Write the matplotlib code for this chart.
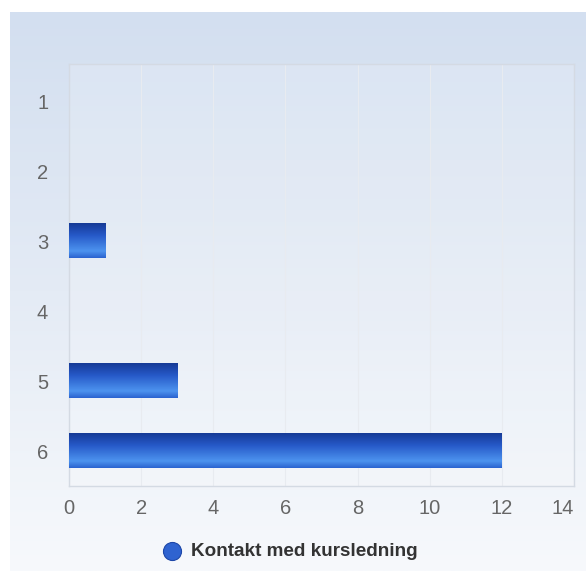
import numpy as np
import matplotlib
matplotlib.use("Agg")
from matplotlib import pyplot as plt
from matplotlib.colors import LinearSegmentedColormap
from matplotlib.lines import Line2D

categories = ["1", "2", "3", "4", "5", "6"]
values = [0, 0, 1, 0, 3, 12]
series_name = "Kontakt med kursledning"
x_ticks = [0, 2, 4, 6, 8, 10, 12, 14]

plt.rcParams['font.family'] = ['Liberation Sans', 'DejaVu Sans']

W, H = 586, 571
fig = plt.figure(figsize=(W / 100, H / 100), dpi=100)
fig.patch.set_facecolor("white")

# bakgrund med gradient
bg = fig.add_axes([10 / W, 0, 1 - 10 / W, 1 - 12 / H])
bg.set_axis_off()
grad = np.linspace(0, 1, 256).reshape(-1, 1)
bg_cmap = LinearSegmentedColormap.from_list("bg", ["#d3dff0", "#e4ebf5", "#f7f9fc"])
bg.imshow(grad, aspect="auto", cmap=bg_cmap, extent=[0, 1, 0, 1], origin="upper")
bg.set_xlim(0, 1)
bg.set_ylim(0, 1)

ax = fig.add_axes([69 / W, 1 - 486 / H, (574 - 69) / W, (486 - 64) / H])
ax.set_facecolor((1, 1, 1, 0.15))

pos = np.arange(1, len(categories) + 1)
bars = ax.barh(pos, values, height=0.49, color="none", zorder=3)

bar_cmap = LinearSegmentedColormap.from_list(
    "bar", [(0, "#163a96"), (0.35, "#2659c8"), (0.8, "#4d93ef"), (1, "#2a62cf")])
for b in bars:
    if b.get_width() <= 0:
        continue
    x0, y0 = b.get_x(), b.get_y()
    ax.imshow(grad, aspect="auto", cmap=bar_cmap, zorder=3,
              extent=[x0, x0 + b.get_width(), y0 + b.get_height(), y0],
              origin="upper", interpolation="bilinear")

ax.set_xlim(0, 14)
ax.set_ylim(6.5, 0.47)
ax.set_xticks(x_ticks)
ax.set_yticks(pos)
ax.set_yticklabels(categories)
ax.xaxis.grid(True, color="#e8ebf0", linewidth=0.8, zorder=0)
ax.set_axisbelow(True)
ax.tick_params(length=0, colors="#666666", labelsize=14.5)
ax.tick_params(axis="y", pad=15)
ax.tick_params(axis="x", pad=9)
ax.get_xticklabels()[-1].set_horizontalalignment("right")
for s in ax.spines.values():
    s.set_color("#d4dae3")
    s.set_linewidth(1)

# legend
ly = 1 - 551 / H
fig.add_artist(Line2D([172 / W], [ly], marker="o", markersize=13,
                      markerfacecolor="#2f63d0", markeredgecolor="#1d47a8",
                      markeredgewidth=0.8, transform=fig.transFigure))
fig.text(191 / W, ly, series_name, color="#333333", fontsize=13.6,
         fontweight="bold", ha="left", va="center")

fig.savefig("out.png", dpi=100)
